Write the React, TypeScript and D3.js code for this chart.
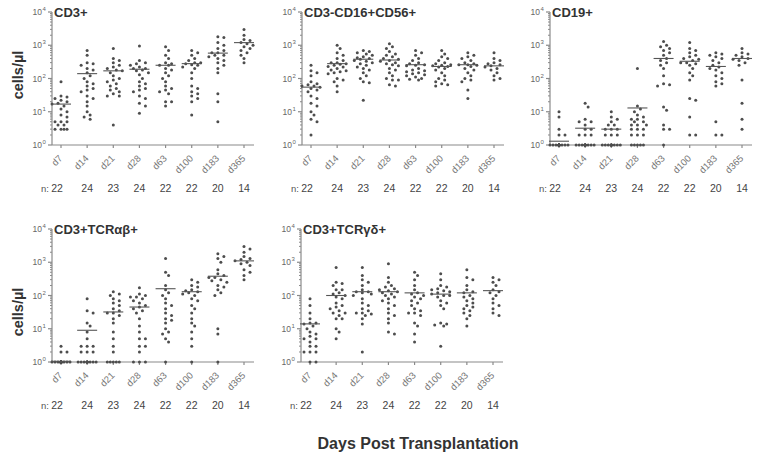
import React from 'react';
import * as d3 from 'd3';

const days = ['d7', 'd14', 'd21', 'd28', 'd63', 'd100', 'd183', 'd365'];
const nCounts = [22, 24, 23, 24, 22, 22, 20, 14];
const decades = [0, 1, 2, 3, 4];

// cells/µl per patient, one list per day
const cd3Values = [
  [80, 30, 28, 25, 22, 20, 18, 17, 15, 12, 10, 8, 7, 5, 5, 5, 4, 4, 3, 3, 3, 3],
  [700, 500, 300, 280, 250, 200, 180, 150, 120, 100, 80, 70, 60, 50, 45, 40, 30, 25, 20, 15, 10, 8, 7, 6],
  [800, 400, 350, 300, 250, 220, 200, 180, 170, 150, 120, 100, 90, 80, 70, 60, 50, 45, 40, 35, 30, 30, 4],
  [950, 350, 300, 280, 250, 220, 200, 200, 180, 170, 150, 130, 100, 80, 70, 60, 50, 45, 40, 30, 25, 18, 15, 9],
  [900, 700, 500, 400, 300, 280, 250, 250, 200, 180, 150, 120, 100, 80, 60, 50, 45, 40, 35, 20, 20, 15],
  [700, 600, 500, 400, 350, 300, 300, 280, 260, 250, 220, 200, 150, 100, 60, 50, 40, 35, 30, 25, 20, 8],
  [1800, 1700, 1200, 1000, 800, 700, 600, 600, 500, 500, 450, 400, 350, 300, 250, 200, 150, 35, 20, 5],
  [3000, 2000, 1500, 1400, 1200, 1100, 1000, 900, 800, 700, 600, 500, 400, 300],
];
const cd3Medians = [17, 140, 170, 190, 250, 280, 580, 1200];

const nkValues = [
  [250, 170, 150, 120, 80, 70, 65, 60, 60, 55, 50, 45, 40, 30, 25, 18, 15, 10, 8, 6, 5, 2],
  [1000, 800, 600, 500, 400, 350, 300, 300, 280, 270, 250, 230, 220, 200, 180, 170, 160, 150, 140, 100, 90, 80, 60, 40],
  [700, 650, 600, 550, 500, 450, 420, 400, 380, 350, 330, 300, 280, 250, 220, 200, 180, 150, 120, 100, 80, 75, 22],
  [1100, 900, 800, 650, 550, 500, 450, 400, 380, 350, 330, 300, 280, 260, 240, 200, 180, 150, 120, 100, 90, 90, 65, 60],
  [700, 600, 500, 400, 350, 300, 280, 260, 250, 240, 200, 180, 170, 160, 150, 140, 130, 120, 110, 100, 95, 90],
  [700, 550, 450, 400, 350, 300, 280, 260, 250, 240, 230, 220, 200, 180, 150, 120, 100, 90, 80, 70, 65, 60],
  [600, 500, 450, 400, 350, 300, 280, 260, 260, 250, 230, 200, 180, 150, 120, 100, 90, 80, 45, 25],
  [600, 400, 350, 300, 280, 260, 240, 220, 200, 180, 150, 120, 100, 90],
];
const nkMedians = [55, 280, 380, 360, 260, 230, 260, 240];

const cd19Values = [
  [10, 7, 3, 2, 2, 1, 1, 1, 1, 1, 1, 1, 1, 1, 1, 1, 1, 1, 1, 1, 1, 1],
  [18, 14, 6, 5, 5, 4, 3, 3, 2, 2, 2, 1, 1, 1, 1, 1, 1, 1, 1, 1, 1, 1, 1, 1],
  [10, 7, 6, 5, 4, 4, 3, 3, 3, 2, 2, 2, 1, 1, 1, 1, 1, 1, 1, 1, 1, 1, 1],
  [200, 15, 12, 10, 8, 7, 6, 6, 5, 5, 4, 4, 4, 3, 3, 3, 2, 2, 2, 1, 1, 1, 1, 1],
  [1300, 1000, 900, 800, 700, 600, 500, 400, 350, 300, 250, 200, 120, 70, 65, 60, 14, 11, 4, 3, 3, 1],
  [1200, 800, 700, 600, 500, 450, 400, 380, 350, 300, 300, 280, 250, 200, 150, 120, 90, 25, 22, 7, 2, 2],
  [600, 550, 500, 450, 400, 350, 300, 250, 220, 200, 180, 150, 120, 100, 80, 70, 60, 5, 2, 2],
  [800, 600, 550, 500, 450, 400, 380, 350, 300, 250, 90, 18, 6, 3],
];
const cd19Medians = [1.3, 3.2, 3, 13, 400, 330, 230, 400];

const abValues = [
  [3, 2, 2, 1, 1, 1, 1, 1, 1, 1, 1, 1, 1, 1, 1, 1, 1, 1, 1, 1, 1, 1],
  [80, 35, 30, 15, 12, 8, 5, 3, 3, 3, 2, 2, 2, 1, 1, 1, 1, 1, 1, 1, 1, 1, 1, 1],
  [130, 110, 100, 80, 70, 60, 50, 40, 35, 30, 30, 25, 20, 15, 8, 5, 3, 2, 1, 1, 1, 1, 1],
  [170, 110, 100, 90, 90, 80, 70, 60, 50, 45, 40, 35, 30, 20, 12, 8, 5, 5, 3, 3, 2, 1, 1, 1],
  [1300, 500, 400, 200, 150, 120, 100, 80, 60, 50, 40, 30, 25, 20, 18, 15, 10, 8, 7, 5, 4, 1],
  [300, 250, 200, 180, 150, 140, 130, 120, 110, 100, 80, 70, 50, 40, 30, 20, 15, 12, 8, 5, 3, 1],
  [1800, 1500, 1300, 1000, 600, 450, 400, 350, 350, 300, 280, 250, 200, 180, 150, 120, 100, 10, 7, 1],
  [3000, 2500, 2000, 1500, 1300, 1200, 1100, 1000, 900, 800, 600, 500, 400, 300],
];
const abMedians = [1.05, 9, 32, 45, 160, 130, 380, 1100];

const gdValues = [
  [80, 50, 30, 20, 15, 15, 14, 12, 10, 8, 7, 6, 5, 5, 4, 3, 3, 2, 2, 2, 1, 1],
  [700, 250, 230, 200, 150, 150, 120, 110, 100, 90, 80, 60, 50, 45, 40, 35, 30, 30, 25, 20, 20, 10, 8, 5],
  [700, 400, 300, 250, 200, 150, 130, 130, 120, 110, 100, 80, 60, 50, 40, 35, 30, 30, 28, 25, 20, 14, 2],
  [900, 350, 250, 200, 180, 160, 150, 140, 130, 120, 110, 100, 90, 80, 70, 60, 50, 40, 30, 25, 20, 15, 8, 7],
  [500, 400, 300, 200, 150, 120, 110, 100, 90, 80, 70, 60, 50, 40, 35, 30, 30, 25, 15, 12, 7, 4],
  [450, 300, 200, 180, 160, 150, 140, 130, 120, 110, 100, 100, 90, 70, 60, 50, 40, 15, 14, 13, 12, 3],
  [600, 350, 300, 200, 150, 130, 120, 100, 90, 80, 70, 60, 50, 45, 40, 35, 30, 25, 20, 12],
  [350, 300, 250, 200, 150, 130, 120, 100, 80, 60, 50, 40, 30, 25],
];
const gdMedians = [14, 100, 130, 130, 120, 110, 120, 140];

const panels = [
  { title: 'CD3+', values: cd3Values, medians: cd3Medians, left: 52, top: 12, ylabelY: 75 },
  { title: 'CD3-CD16+CD56+', values: nkValues, medians: nkMedians, left: 302, top: 12, ylabelY: 0 },
  { title: 'CD19+', values: cd19Values, medians: cd19Medians, left: 550, top: 12, ylabelY: 0 },
  { title: 'CD3+TCRαβ+', values: abValues, medians: abMedians, left: 52, top: 229, ylabelY: 312 },
  { title: 'CD3+TCRγδ+', values: gdValues, medians: gdMedians, left: 301, top: 229, ylabelY: 0 },
];

const plotH = 133;
const dotColor = '#4d4d4d';
const axisColor = '#8a8a8a';

// small beeswarm so dots at the same level sit side by side
function swarm(ys: number[], step = 3, minDist = 4, maxOff = 9) {
  const order = ys.map((_, i) => i).sort((a, b) => ys[a] - ys[b]);
  const placed: { x: number; y: number }[] = [];
  const out: number[] = new Array(ys.length).fill(0);
  const nSteps = Math.floor(maxOff / step);
  for (const i of order) {
    const y = ys[i];
    let chosen = 0;
    let bestD = -1;
    for (let k = 0; k <= 2 * nSteps; k++) {
      const off = (k % 2 === 1 ? 1 : -1) * Math.ceil(k / 2) * step;
      let minD = Infinity;
      for (const p of placed) {
        const d = Math.hypot(p.x - off, p.y - y);
        if (d < minD) minD = d;
      }
      if (minD >= minDist) { chosen = off; bestD = minD; break; }
      if (minD > bestD) { bestD = minD; chosen = off; }
    }
    placed.push({ x: chosen, y });
    out[i] = chosen;
  }
  return out;
}

const Panel: React.FC<{ p: typeof panels[number] }> = ({ p }) => {
  const y = d3.scaleLog().domain([1, 10000]).range([p.top + plotH, p.top]);
  const x = d3.scalePoint<string>().domain(days).range([p.left + 9, p.left + 192]);
  const bottom = p.top + plotH;
  const minor: number[] = [];
  decades.slice(0, 4).forEach((k) => {
    for (let m = 2; m <= 9; m++) minor.push(m * Math.pow(10, k));
  });

  return (
    <g>
      <line x1={p.left} x2={p.left} y1={p.top} y2={bottom} stroke={axisColor} strokeWidth={1.2} />
      {minor.map((v) => (
        <line key={v} x1={p.left - 2} x2={p.left} y1={y(v)} y2={y(v)} stroke={axisColor} strokeWidth={1} />
      ))}
      {decades.map((k) => (
        <g key={k}>
          <line x1={p.left - 4} x2={p.left} y1={y(Math.pow(10, k))} y2={y(Math.pow(10, k))} stroke={axisColor} strokeWidth={1.2} />
          <text x={p.left - 10} y={y(Math.pow(10, k)) + 3} textAnchor="end" fontSize={8.5} fill="#666">
            10
          </text>
          <text x={p.left - 9.5} y={y(Math.pow(10, k)) - 1} fontSize={6} fill="#666">
            {k}
          </text>
        </g>
      ))}
      <line x1={p.left} x2={p.left + 202} y1={bottom} y2={bottom} stroke={axisColor} strokeWidth={1.2} />
      {days.map((d) => (
        <line key={d} x1={x(d)!} x2={x(d)!} y1={bottom} y2={bottom + 3} stroke={axisColor} strokeWidth={1.2} />
      ))}
      {days.map((d) => (
        <text key={d} transform={`translate(${x(d)! + 2},${bottom + 14}) rotate(-45)`} textAnchor="end" fontSize={9.5} fill="#777">
          {d}
        </text>
      ))}
      <text x={p.left - 11} y={bottom + 47} fontSize={9.5} fill="#555">n:</text>
      {days.map((d, i) => (
        <text key={d} x={x(d)! - (i === 0 ? 4 : 0)} y={bottom + 47} textAnchor="middle" fontSize={10.5} fill="#444">
          {nCounts[i]}
        </text>
      ))}
      <text x={p.left + 2} y={p.top + 5} fontSize={13} fontWeight="bold" fill="#333">
        {p.title}
      </text>
      {p.values.map((vals, i) => {
        const ys = vals.map((v) => y(v));
        const offs = swarm(ys);
        const cx = x(days[i])!;
        return (
          <g key={i}>
            {ys.map((yy, j) => (
              <circle key={j} cx={cx + offs[j]} cy={yy} r={1.5} fill={dotColor} />
            ))}
            <line x1={cx - 10} x2={cx + 10} y1={y(p.medians[i])} y2={y(p.medians[i])} stroke="#555" strokeWidth={1.1} />
          </g>
        );
      })}
      {p.ylabelY > 0 && (
        <text transform={`translate(23,${p.ylabelY}) rotate(-90)`} textAnchor="middle" fontSize={14.5} fontWeight="bold" fill="#333">
          cells/µl
        </text>
      )}
    </g>
  );
};

export default function App() {
  return (
    <svg width={760} height={456} style={{ position: 'absolute', left: 0, top: 0, background: '#fff' }} fontFamily="'Liberation Sans', Arial, sans-serif">
      {panels.map((p) => (
        <Panel key={p.title} p={p} />
      ))}
      <text x={418} y={449} textAnchor="middle" fontSize={16} fontWeight="bold" fill="#333">
        Days Post Transplantation
      </text>
    </svg>
  );
}
